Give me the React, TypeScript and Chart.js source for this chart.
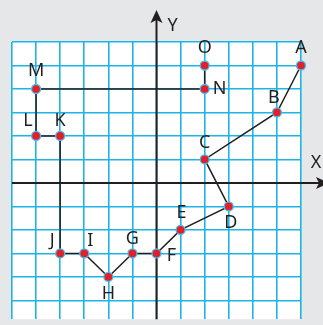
import React, { useEffect, useRef } from "react";
import { Chart, registerables } from "chart.js";

Chart.register(...registerables);

const pointNames = ["A", "B", "C", "D", "E", "F", "G", "H", "I", "J", "K", "L", "M", "N", "O"];
const xValues = [6, 5, 2, 3, 1, 0, -1, -2, -3, -4, -4, -5, -5, 2, 2];
const yValues = [5, 3, 1, -1, -2, -3, -3, -4, -3, -3, 2, 2, 4, 4, 5];
const xRange = [-6, 6];
const yRange = [-5.8, 6];
const axisNames = ["X", "Y"];

// label offsets (style only, in pixels)
const labelOffsets: Record<string, [number, number]> = {
  A: [0, -18], B: [-3, -15], C: [0, -17], D: [2, 16], E: [1, -17],
  F: [15, 2], G: [0, -15], H: [0, 17], I: [6, -13], J: [-8, -13],
  K: [0, -15], L: [-8, -15], M: [0, -18], N: [15, 0], O: [0, -18],
};

const INK = "#231f20";
const GRID = "#1db4e8";
const FONT = "18px 'Noto Sans', sans-serif";

const decorPlugin = {
  id: "decor",
  beforeDraw(chart: any) {
    const { ctx, chartArea: a, width, height } = chart;
    ctx.save();
    ctx.fillStyle = "#e6e7e8";
    ctx.fillRect(0, 0, width, height);
    ctx.fillStyle = "#ffffff";
    ctx.fillRect(a.left, a.top, a.right - a.left, a.bottom - a.top);
    ctx.restore();
  },
  beforeDatasetsDraw(chart: any) {
    const { ctx, chartArea: a, scales } = chart;
    const x0 = scales.x.getPixelForValue(0);
    const y0 = scales.y.getPixelForValue(0);
    ctx.save();
    ctx.strokeStyle = INK;
    ctx.fillStyle = INK;
    ctx.lineWidth = 2;
    // x axis
    const xTip = a.right + 28;
    ctx.beginPath();
    ctx.moveTo(a.left, y0);
    ctx.lineTo(xTip - 6, y0);
    ctx.stroke();
    ctx.beginPath();
    ctx.moveTo(xTip, y0);
    ctx.lineTo(xTip - 13, y0 - 6);
    ctx.lineTo(xTip - 10, y0);
    ctx.lineTo(xTip - 13, y0 + 6);
    ctx.closePath();
    ctx.fill();
    // y axis
    const yTip = 10;
    ctx.beginPath();
    ctx.moveTo(x0, a.bottom);
    ctx.lineTo(x0, yTip + 6);
    ctx.stroke();
    ctx.beginPath();
    ctx.moveTo(x0, yTip);
    ctx.lineTo(x0 - 6, yTip + 13);
    ctx.lineTo(x0, yTip + 10);
    ctx.lineTo(x0 + 6, yTip + 13);
    ctx.closePath();
    ctx.fill();
    // axis names
    ctx.font = FONT;
    ctx.textAlign = "center";
    ctx.textBaseline = "middle";
    ctx.fillText(axisNames[0], a.right + 15, y0 - 20);
    ctx.fillText(axisNames[1], x0 + 16, 26);
    ctx.restore();
  },
  afterDatasetsDraw(chart: any) {
    const { ctx } = chart;
    const meta = chart.getDatasetMeta(0);
    ctx.save();
    ctx.font = FONT;
    ctx.fillStyle = INK;
    ctx.textAlign = "center";
    ctx.textBaseline = "middle";
    meta.data.forEach((el: any, i: number) => {
      const name = pointNames[i];
      const [dx, dy] = labelOffsets[name] || [0, -16];
      ctx.fillText(name, el.x + dx, el.y + dy);
    });
    ctx.restore();
  },
};

export default function App() {
  const ref = useRef<HTMLCanvasElement | null>(null);
  useEffect(() => {
    if (!ref.current) return;
    const chart = new Chart(ref.current, {
      type: "scatter",
      data: {
        datasets: [
          {
            data: xValues.map((x, i) => ({ x, y: yValues[i] })),
            showLine: true,
            borderColor: INK,
            borderWidth: 1.5,
            tension: 0,
            pointRadius: 4.5,
            pointBorderWidth: 1.3,
            pointBorderColor: "#45bff0",
            pointBackgroundColor: "#e3202a",
            clip: false,
          } as any,
        ],
      },
      options: {
        responsive: false,
        animation: false,
        events: [],
        layout: { padding: { left: 12, right: 22, top: 42, bottom: 0 } },
        plugins: { legend: { display: false }, tooltip: { enabled: false } },
        scales: {
          x: {
            type: "linear",
            min: xRange[0],
            max: xRange[1],
            ticks: { display: false, stepSize: 1 },
            grid: { color: GRID, lineWidth: 1.6, drawTicks: false },
            border: { display: false },
          },
          y: {
            type: "linear",
            min: yRange[0],
            max: yRange[1],
            ticks: { display: false, stepSize: 1 },
            grid: { color: GRID, lineWidth: 1.6, drawTicks: false },
            border: { display: false },
            afterBuildTicks: (scale: any) => {
              scale.ticks = scale.ticks.filter((t: any) => Number.isInteger(t.value));
            },
          },
        },
      },
      plugins: [decorPlugin],
    });
    return () => chart.destroy();
  }, []);
  return (
    <div style={{ position: "fixed", left: 0, top: 0, width: 323, height: 325 }}>
      <canvas ref={ref} width={323} height={325} />
    </div>
  );
}
